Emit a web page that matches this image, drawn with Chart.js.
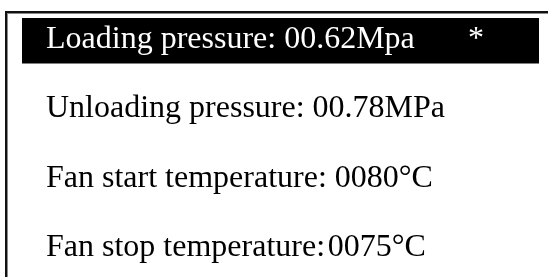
<!DOCTYPE html>
<html>
<head>
<meta charset="utf-8">
<script src="https://cdn.jsdelivr.net/npm/chart.js@4"></script>
<style>
  html, body { margin: 0; padding: 0; background: #fff; overflow: hidden; }
  #wrap { position: relative; width: 548px; height: 284px; }
  #frame {
    position: absolute; left: 5px; top: 11px; right: -10px; bottom: -10px;
    border-left: 2px solid #111; border-top: 2px solid #111;
    box-shadow: inset 1px 1px 0 #8a8a8a;
  }
  canvas { position: absolute; left: 0; top: 0; }
</style>
</head>
<body>
<div id="wrap">
  <div id="frame"></div>
  <canvas id="screen"></canvas>
</div>
<script>
// menu rows shown on the panel
const rowNames = ['Loading pressure', 'Unloading pressure', 'Fan start temperature', 'Fan stop temperature'];
const separators = [': ', ': ', ': ', ':\u200a'];
const rowValues = ['00.62', '00.78', '0080', '0075'];
const rowUnits = ['Mpa', 'MPa', '\u00b0C', '\u00b0C'];
const selectedRow = 0;
const cursorMark = '*';

const rowLabels = rowNames.map((n, i) => n + separators[i] + rowValues[i] + rowUnits[i]);

const FONT = '32px "Liberation Serif", "DejaVu Serif", "Times New Roman", serif';

const rowText = {
    id: 'rowText',
    afterDatasetsDraw(chart) {
        const ctx = chart.ctx;
        const x = chart.scales.x;
        const y = chart.scales.y;
        ctx.save();
        ctx.font = FONT;
        ctx.textBaseline = 'alphabetic';
        rowLabels.forEach((label, i) => {
            const py = y.getPixelForValue(i) + 7;
            ctx.fillStyle = i === selectedRow ? '#fff' : '#000';
            ctx.textAlign = 'left';
            ctx.fillText(label, chart.chartArea.left + 24, py);
            if (i === selectedRow) {
                ctx.textAlign = 'center';
                ctx.fillText(cursorMark, x.getPixelForValue(0.878), py);
            }
        });
        ctx.restore();
    }
};

new Chart(document.getElementById('screen'), {
    type: 'bar',
    data: {
        labels: rowLabels,
        datasets: [{
            data: rowLabels.map((_, i) => i === selectedRow ? [0, 1] : null),
            backgroundColor: '#000',
            borderWidth: 0,
            barThickness: 45
        }]
    },
    options: {
        indexAxis: 'y',
        responsive: true,
        maintainAspectRatio: false,
        animation: false,
        layout: { padding: { left: 22, right: 9, top: 6, bottom: 0 } },
        scales: {
            x: { display: false, min: 0, max: 1 },
            y: { display: false }
        },
        plugins: {
            legend: { display: false },
            tooltip: { enabled: false }
        }
    },
    plugins: [rowText]
});
</script>
</body>
</html>
